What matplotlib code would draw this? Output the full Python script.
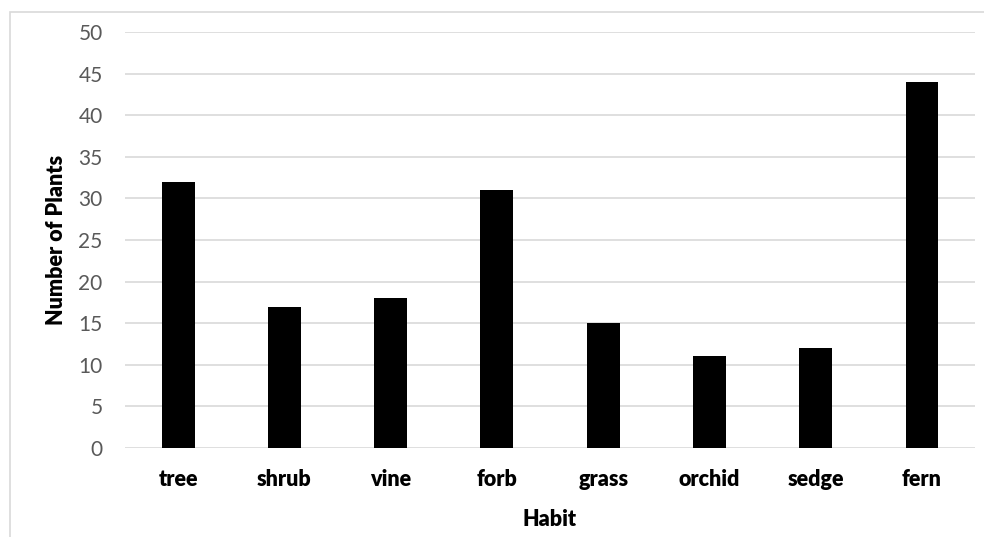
import matplotlib.pyplot as plt
from matplotlib.patches import Rectangle

habits = ['tree', 'shrub', 'vine', 'forb', 'grass', 'orchid', 'sedge', 'fern']
counts = [32, 17, 18, 31, 15, 11, 12, 44]
yticks = list(range(0, 51, 5))

plt.rcParams['font.family'] = ['Lato', 'DejaVu Sans']

fig = plt.figure(figsize=(9.84, 5.37), dpi=100)
ax = fig.add_axes([0.127, 0.166, 0.864, 0.774])

# outer chart frame (cut off at right and bottom)
fig.patches.append(Rectangle((10 / 984, -0.2), 1.2, 1.2 - 12 / 537,
                             transform=fig.transFigure, fill=False,
                             edgecolor='#d9d9d9', linewidth=1.2))

x = range(len(habits))
ax.bar(x, counts, width=0.31, color='black', zorder=3)

ax.set_xlim(-0.5, len(habits) - 0.5)
ax.set_ylim(0, 50)
ax.set_yticks(yticks)
ax.grid(axis='y', color='#d9d9d9', linewidth=1.2, zorder=0)
for s in ax.spines.values():
    s.set_visible(False)
ax.tick_params(axis='both', length=0)
ax.tick_params(axis='y', pad=16, labelsize=15, labelcolor='#595959')
ax.tick_params(axis='x', pad=15)
ax.set_xticks(list(x))
ax.set_xticklabels(habits, fontsize=15.5, fontweight='heavy')

ax.set_xlabel('Habit', fontsize=15.5, fontweight='heavy', labelpad=14)
ax.set_ylabel('Number of Plants', fontsize=15.5, fontweight='heavy', labelpad=8)

plt.savefig('out.png', dpi=100)
